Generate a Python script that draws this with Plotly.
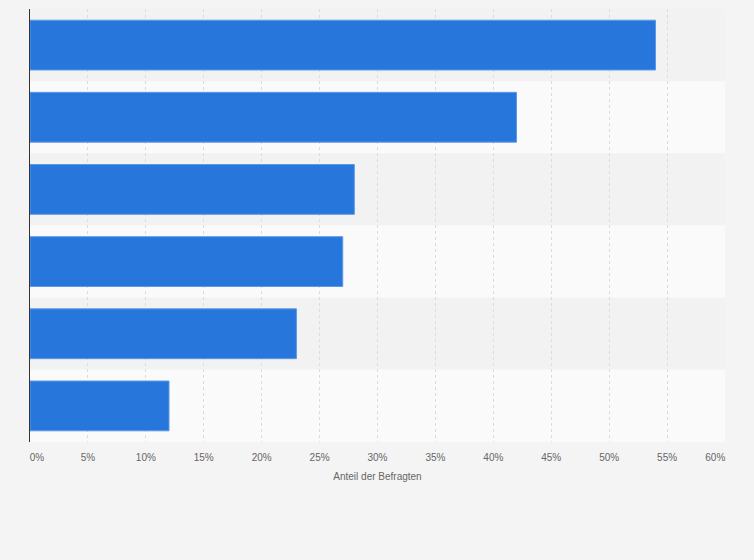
import plotly.graph_objects as go

categories = ["1", "2", "3", "4", "5", "6"]
values = [54, 42, 28, 27, 23, 12]
tick_vals = [0, 5, 10, 15, 20, 25, 30, 35, 40, 45, 50, 55, 60]
tick_labels = [f"{v}%" for v in tick_vals]
x_title = "Anteil der Befragten"

# edge labels sit inside the plot area, as in the reference
nb = "\u00a0"
tick_text = list(tick_labels)
tick_text[0] = nb * 5 + tick_text[0]
tick_text[-1] = tick_text[-1] + nb * 7

fig = go.Figure()
fig.add_trace(go.Bar(
    x=values, y=categories, orientation="h",
    marker=dict(color="#2776db", line=dict(color="#5c98e6", width=1)),
    hoverinfo="x",
))

shapes = []
for i, c in enumerate(categories):
    shapes.append(dict(type="rect", xref="paper", yref="y", x0=0, x1=1,
                       y0=i - 0.5, y1=i + 0.5, layer="below", line_width=0,
                       fillcolor="#f2f2f2" if i % 2 == 0 else "#fafafa"))

fig.update_layout(
    width=754, height=560,
    margin=dict(l=30, r=29, t=9, b=118),
    paper_bgcolor="#f4f4f4", plot_bgcolor="#fafafa",
    shapes=shapes,
    bargap=0.31,
    showlegend=False,
    font=dict(family="Arial, Liberation Sans, sans-serif", color="#666666", size=10),
    xaxis=dict(range=[0, 60], tickvals=tick_vals, ticktext=tick_text,
               showgrid=True, gridcolor="#dcdcdc", griddash="dot", gridwidth=1,
               zeroline=False, showline=False, ticks="",
               ticklabelstandoff=8,
               tickfont=dict(size=10, color="#666666"),
               title=dict(text=x_title, font=dict(size=10, color="#666666"), standoff=10)),
    yaxis=dict(type="category", categoryorder="array", categoryarray=categories,
               range=[5.5, -0.5], showticklabels=False, showgrid=False,
               zeroline=False, showline=True, linecolor="#333333", linewidth=1, ticks=""),
)
fig.write_html("out.html", config={"displayModeBar": False},
               post_script="document.body.style.margin='0';")
